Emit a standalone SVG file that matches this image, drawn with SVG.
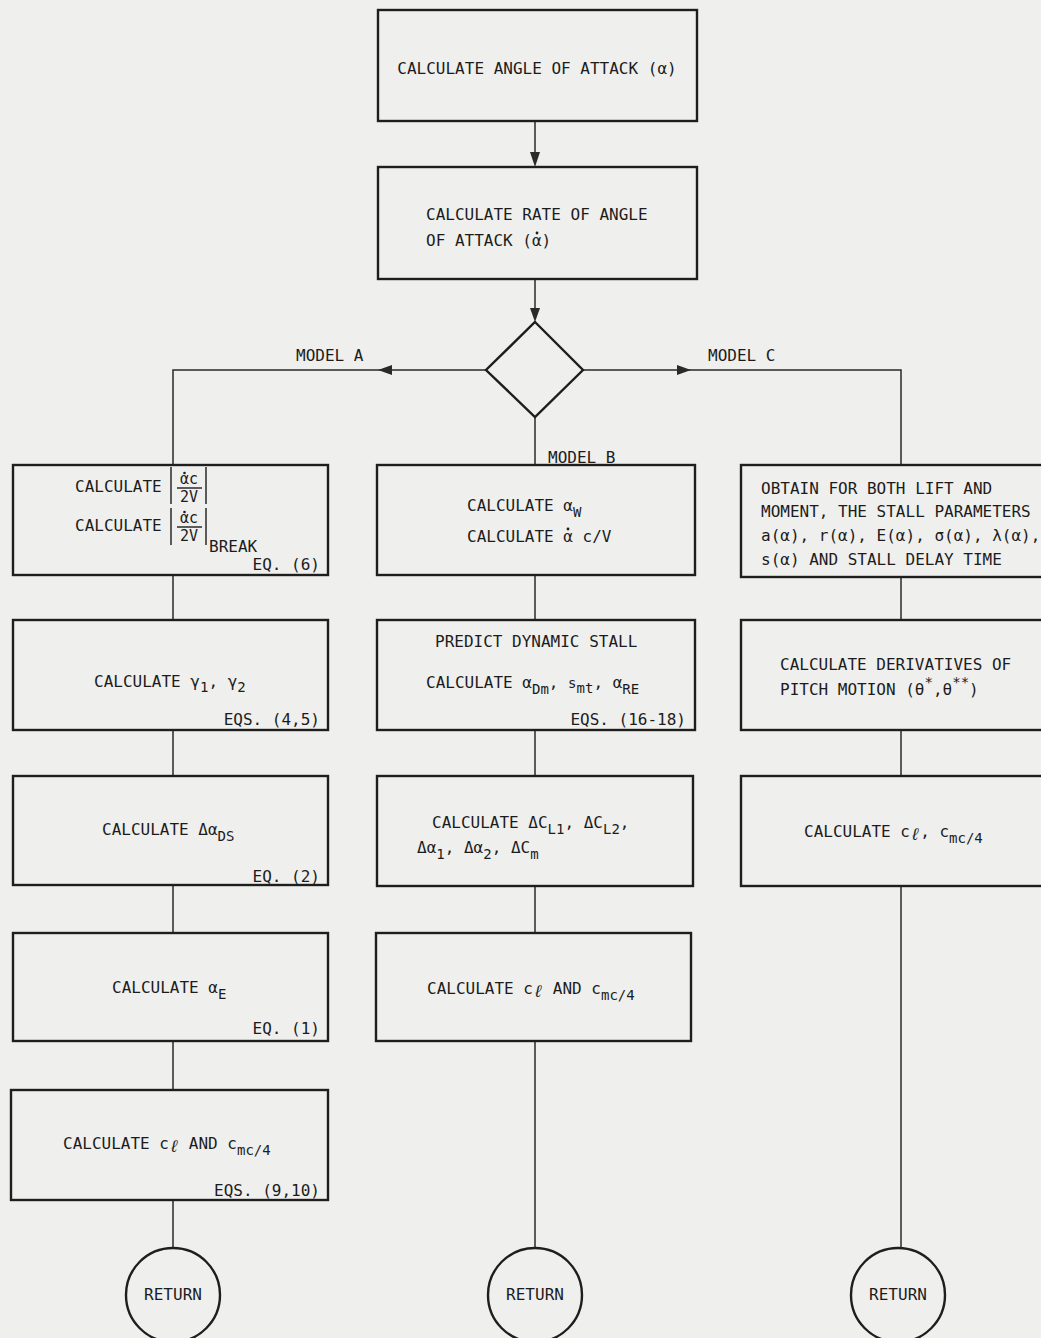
<svg xmlns="http://www.w3.org/2000/svg" width="1041" height="1338" viewBox="0 0 1041 1338">
<style>
.bg{fill:#efefee}
.box{fill:none;stroke:#1e1e1e;stroke-width:2.4}
.ln{fill:none;stroke:#2a2a2a;stroke-width:1.5}
.ah{fill:#2a2a2a}
.dot{fill:#1e1e1e}
.t{font-family:"DejaVu Sans Mono","Liberation Mono",monospace;font-size:16px;fill:#1c1c1c}
.e{text-anchor:end}
.m{text-anchor:middle}
.s{font-size:14px}
.l{font-size:17px;font-style:italic}
.f{font-family:"DejaVu Sans Mono","Liberation Mono",monospace;font-size:15px;fill:#1c1c1c;text-anchor:middle}
</style>
<rect class="bg" x="0" y="0" width="1041" height="1338"/>

<g id="connectors">
  <line class="ln" x1="535" y1="121" x2="535" y2="160"/>
  <polygon class="ah" points="530,152 540,152 535,167"/>
  <line class="ln" x1="535" y1="279" x2="535" y2="316"/>
  <polygon class="ah" points="530,308 540,308 535,322"/>
  <polyline class="ln" points="486,370 173,370 173,465"/>
  <polygon class="ah" points="378,370 392,365 392,375"/>
  <polyline class="ln" points="583,370 901,370 901,465"/>
  <polygon class="ah" points="691,370 677,365 677,375"/>
  <line class="ln" x1="535" y1="417" x2="535" y2="465"/>
  <line class="ln" x1="173" y1="575" x2="173" y2="620"/>
  <line class="ln" x1="173" y1="730" x2="173" y2="776"/>
  <line class="ln" x1="173" y1="885" x2="173" y2="933"/>
  <line class="ln" x1="173" y1="1041" x2="173" y2="1090"/>
  <line class="ln" x1="173" y1="1200" x2="173" y2="1248"/>
  <line class="ln" x1="535" y1="575" x2="535" y2="620"/>
  <line class="ln" x1="535" y1="730" x2="535" y2="776"/>
  <line class="ln" x1="535" y1="886" x2="535" y2="933"/>
  <line class="ln" x1="535" y1="1041" x2="535" y2="1248"/>
  <line class="ln" x1="901" y1="577" x2="901" y2="620"/>
  <line class="ln" x1="901" y1="730" x2="901" y2="776"/>
  <line class="ln" x1="901" y1="886" x2="901" y2="1248"/>
  <text class="t" x="296" y="361">MODEL A</text>
  <text class="t" x="708" y="361">MODEL C</text>
  <text class="t" x="548" y="463">MODEL B</text>
</g>

<g id="n-angle">
  <rect class="box" x="378" y="10" width="319" height="111"/>
  <text class="t m" x="537" y="74">CALCULATE ANGLE OF ATTACK (α)</text>
</g>
<g id="n-rate">
  <rect class="box" x="378" y="167" width="319" height="112"/>
  <text class="t" x="426" y="220">CALCULATE RATE OF ANGLE</text>
  <text class="t" x="426" y="246">OF ATTACK (α)</text>
  <circle class="dot" cx="537" cy="233" r="1.4"/>
</g>
<g id="n-decision">
  <polygon class="box" points="535,322 583,370 535,417 486,370"/>
</g>

<g id="a1">
  <rect class="box" x="13" y="465" width="315" height="110"/>
  <text class="t" x="75" y="492">CALCULATE</text>
  <line class="ln" x1="171" y1="467" x2="171" y2="504"/>
  <line class="ln" x1="206" y1="467" x2="206" y2="504"/>
  <text class="f" x="189" y="484">αc</text>
  <circle class="dot" cx="184.5" cy="473" r="1.3"/>
  <line class="ln" x1="177" y1="488" x2="202" y2="488"/>
  <text class="f" x="189" y="502">2V</text>
  <text class="t" x="75" y="531">CALCULATE</text>
  <line class="ln" x1="171" y1="508" x2="171" y2="545"/>
  <line class="ln" x1="206" y1="508" x2="206" y2="545"/>
  <text class="f" x="189" y="523">αc</text>
  <circle class="dot" cx="184.5" cy="512" r="1.3"/>
  <line class="ln" x1="177" y1="527" x2="202" y2="527"/>
  <text class="f" x="189" y="541">2V</text>
  <text class="t" x="209" y="552">BREAK</text>
  <text class="t e" x="320" y="570">EQ. (6)</text>
</g>
<g id="a2">
  <rect class="box" x="13" y="620" width="315" height="110"/>
  <text class="t" x="94" y="687">CALCULATE γ<tspan class="s" dy="5">1</tspan><tspan dy="-5">, γ</tspan><tspan class="s" dy="5">2</tspan></text>
  <text class="t e" x="320" y="725">EQS. (4,5)</text>
</g>
<g id="a3">
  <rect class="box" x="13" y="776" width="315" height="109"/>
  <text class="t" x="102" y="835">CALCULATE Δα<tspan class="s" dy="6">DS</tspan></text>
  <text class="t e" x="320" y="882">EQ. (2)</text>
</g>
<g id="a4">
  <rect class="box" x="13" y="933" width="315" height="108"/>
  <text class="t" x="112" y="993">CALCULATE α<tspan class="s" dy="6">E</tspan></text>
  <text class="t e" x="320" y="1034">EQ. (1)</text>
</g>
<g id="a5">
  <rect class="box" x="11" y="1090" width="317" height="110"/>
  <text class="t" x="63" y="1149">CALCULATE c<tspan class="l" dy="3">ℓ</tspan><tspan dy="-3"> AND c</tspan><tspan class="s" dy="6">mc/4</tspan></text>
  <text class="t e" x="320" y="1196">EQS. (9,10)</text>
</g>

<g id="b1">
  <rect class="box" x="377" y="465" width="318" height="110"/>
  <text class="t" x="467" y="511">CALCULATE α<tspan class="s" dy="6">W</tspan></text>
  <text class="t" x="467" y="542">CALCULATE α c/V</text>
  <circle class="dot" cx="568" cy="529" r="1.4"/>
</g>
<g id="b2">
  <rect class="box" x="377" y="620" width="318" height="110"/>
  <text class="t" x="435" y="647">PREDICT DYNAMIC STALL</text>
  <text class="t" x="426" y="688">CALCULATE α<tspan class="s" dy="6">Dm</tspan><tspan dy="-6">, </tspan><tspan class="s">s</tspan><tspan class="s" dy="5">mt</tspan><tspan dy="-5">, α</tspan><tspan class="s" dy="6">RE</tspan></text>
  <text class="t e" x="686" y="725">EQS. (16-18)</text>
</g>
<g id="b3">
  <rect class="box" x="377" y="776" width="316" height="110"/>
  <text class="t" x="432" y="828">CALCULATE ΔC<tspan class="s" dy="6">L1</tspan><tspan dy="-6">, ΔC</tspan><tspan class="s" dy="6">L2</tspan><tspan dy="-6">,</tspan></text>
  <text class="t" x="417" y="853">Δα<tspan class="s" dy="6">1</tspan><tspan dy="-6">, Δα</tspan><tspan class="s" dy="6">2</tspan><tspan dy="-6">, ΔC</tspan><tspan class="s" dy="6">m</tspan></text>
</g>
<g id="b4">
  <rect class="box" x="376" y="933" width="315" height="108"/>
  <text class="t" x="427" y="994">CALCULATE c<tspan class="l" dy="3">ℓ</tspan><tspan dy="-3"> AND c</tspan><tspan class="s" dy="6">mc/4</tspan></text>
</g>

<g id="c1">
  <rect class="box" x="741" y="465" width="310" height="112"/>
  <text class="t" x="761" y="494">OBTAIN FOR BOTH LIFT AND</text>
  <text class="t" x="761" y="517">MOMENT, THE STALL PARAMETERS</text>
  <text class="t" x="761" y="541">a(α), r(α), E(α), σ(α), λ(α),</text>
  <text class="t" x="761" y="565">s(α) AND STALL DELAY TIME</text>
</g>
<g id="c2">
  <rect class="box" x="741" y="620" width="310" height="110"/>
  <text class="t" x="780" y="670">CALCULATE DERIVATIVES OF</text>
  <text class="t" x="780" y="695">PITCH MOTION (θ<tspan class="s" dy="-8">*</tspan><tspan dy="8">,θ</tspan><tspan class="s" dy="-8">**</tspan><tspan dy="8">)</tspan></text>
</g>
<g id="c3">
  <rect class="box" x="741" y="776" width="310" height="110"/>
  <text class="t" x="804" y="837">CALCULATE c<tspan class="l" dy="3">ℓ</tspan><tspan dy="-3">, c</tspan><tspan class="s" dy="6">mc/4</tspan></text>
</g>

<g id="r1">
  <circle class="box" cx="173" cy="1295" r="47"/>
  <text class="t m" x="173" y="1300">RETURN</text>
</g>
<g id="r2">
  <circle class="box" cx="535" cy="1295" r="47"/>
  <text class="t m" x="535" y="1300">RETURN</text>
</g>
<g id="r3">
  <circle class="box" cx="898" cy="1295" r="47"/>
  <text class="t m" x="898" y="1300">RETURN</text>
</g>
</svg>
